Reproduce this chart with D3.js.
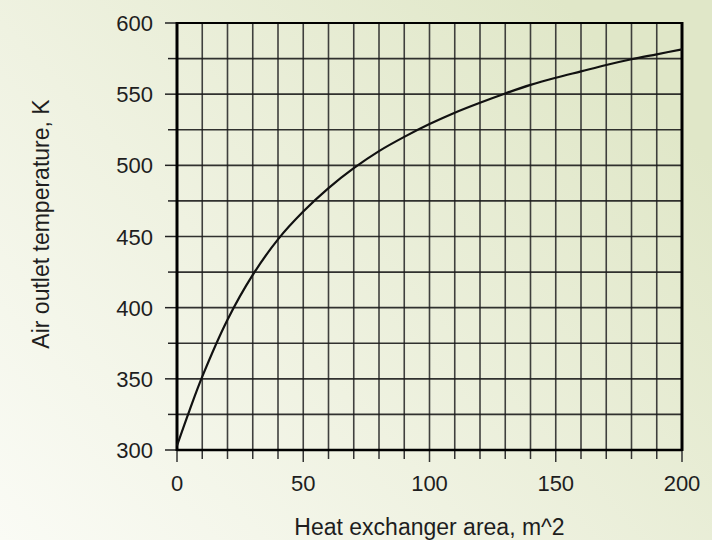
<!DOCTYPE html>
<html>
<head>
<meta charset="utf-8">
<script src="https://cdn.jsdelivr.net/npm/d3@7"></script>
<style>
  html, body { margin: 0; padding: 0; }
  svg { display: block; }
  text { font-family: "Liberation Sans", Arial, sans-serif; fill: #1e1e1e; }
</style>
</head>
<body>
<script>
// Heat exchanger area (m^2) vs air outlet temperature (K)
const areas = [0, 5, 10, 20, 30, 40, 50, 60, 70, 80, 90, 100, 110, 120, 130, 140, 150, 160, 170, 180, 190, 200];
const temps = [303, 328, 351.5, 391.5, 423, 448, 467.5, 484, 498, 510, 520, 529, 537, 544, 550.5, 556.5, 561.5, 566, 570.5, 574.5, 578, 581.5];

const xTicks = [0, 50, 100, 150, 200];
const yTicks = [300, 350, 400, 450, 500, 550, 600];
const xTitle = "Heat exchanger area, m^2";
const yTitle = "Air outlet temperature, K";

const W = 712, H = 540;
const margin = { left: 177, right: 30, top: 23, bottom: 90 };

const svg = d3.select("body").append("svg").attr("width", W).attr("height", H);

// background wash
const defs = svg.append("defs");
const grad = defs.append("linearGradient").attr("id", "bg")
  .attr("x1", "0").attr("y1", "1").attr("x2", "1").attr("y2", "0.3");
grad.append("stop").attr("offset", "0").attr("stop-color", "#fafbf5");
grad.append("stop").attr("offset", "0.45").attr("stop-color", "#eff2e1");
grad.append("stop").attr("offset", "1").attr("stop-color", "#e0e7c8");
svg.append("rect").attr("width", W).attr("height", H).attr("fill", "url(#bg)");

const x = d3.scaleLinear().domain([0, 200]).range([margin.left, W - margin.right]);
const y = d3.scaleLinear().domain([300, 600]).range([H - margin.bottom, margin.top]);

const g = svg.append("g");

// grid
const xGrid = d3.range(0, 201, 10);
const yGrid = d3.range(300, 601, 25);
g.append("g").selectAll("line").data(xGrid).join("line")
  .attr("x1", d => x(d)).attr("x2", d => x(d))
  .attr("y1", y(300)).attr("y2", y(600))
  .attr("stroke", "#2c2c2c").attr("stroke-width", 1.6).attr("stroke-opacity", 0.9);
g.append("g").selectAll("line").data(yGrid).join("line")
  .attr("x1", x(0)).attr("x2", x(200))
  .attr("y1", d => y(d)).attr("y2", d => y(d))
  .attr("stroke", "#1c1c1c").attr("stroke-width", 1.6).attr("stroke-opacity", 0.9);

// tick marks (major longer than minor)
g.append("g").selectAll("line").data(xGrid).join("line")
  .attr("x1", d => x(d)).attr("x2", d => x(d))
  .attr("y1", y(300)).attr("y2", d => y(300) + (d % 50 === 0 ? 12 : 9))
  .attr("stroke", "#333").attr("stroke-width", 1.5);
g.append("g").selectAll("line").data(yGrid).join("line")
  .attr("y1", d => y(d)).attr("y2", d => y(d))
  .attr("x1", d => x(0) - (d % 50 === 0 ? 12 : 9)).attr("x2", x(0))
  .attr("stroke", "#222").attr("stroke-width", 1.5);

// frame
g.append("line").attr("x1", x(0)).attr("x2", x(200)).attr("y1", y(600)).attr("y2", y(600))
  .attr("stroke", "#000").attr("stroke-width", 2.2);
g.append("line").attr("x1", x(0)).attr("x2", x(200)).attr("y1", y(300)).attr("y2", y(300))
  .attr("stroke", "#000").attr("stroke-width", 2.5);
g.append("line").attr("x1", x(0)).attr("x2", x(0)).attr("y1", y(300) + 1).attr("y2", y(600) - 1)
  .attr("stroke", "#000").attr("stroke-width", 3);
g.append("line").attr("x1", x(200)).attr("x2", x(200)).attr("y1", y(300) + 1).attr("y2", y(600) - 1)
  .attr("stroke", "#000").attr("stroke-width", 3);

// tick labels
g.append("g").selectAll("text").data(xTicks).join("text")
  .attr("x", d => x(d)).attr("y", 491)
  .attr("text-anchor", "middle").attr("font-size", 22)
  .text(d => d);
g.append("g").selectAll("text").data(yTicks).join("text")
  .attr("x", 153).attr("y", d => y(d) + 8)
  .attr("text-anchor", "end").attr("font-size", 22)
  .text(d => d);

// axis titles
svg.append("text")
  .attr("x", (x(0) + x(200)) / 2).attr("y", 535)
  .attr("text-anchor", "middle").attr("font-size", 23)
  .text(xTitle);
svg.append("text")
  .attr("transform", "translate(49,224) rotate(-90)")
  .attr("text-anchor", "middle").attr("font-size", 23)
  .text(yTitle);

// curve
const pts = areas.map((a, i) => [a, temps[i]]);
const line = d3.line().x(d => x(d[0])).y(d => y(d[1])).curve(d3.curveCatmullRom.alpha(0.5));
g.append("path").datum(pts)
  .attr("d", line)
  .attr("fill", "none")
  .attr("stroke", "#111")
  .attr("stroke-width", 2.2);
</script>
</body>
</html>
